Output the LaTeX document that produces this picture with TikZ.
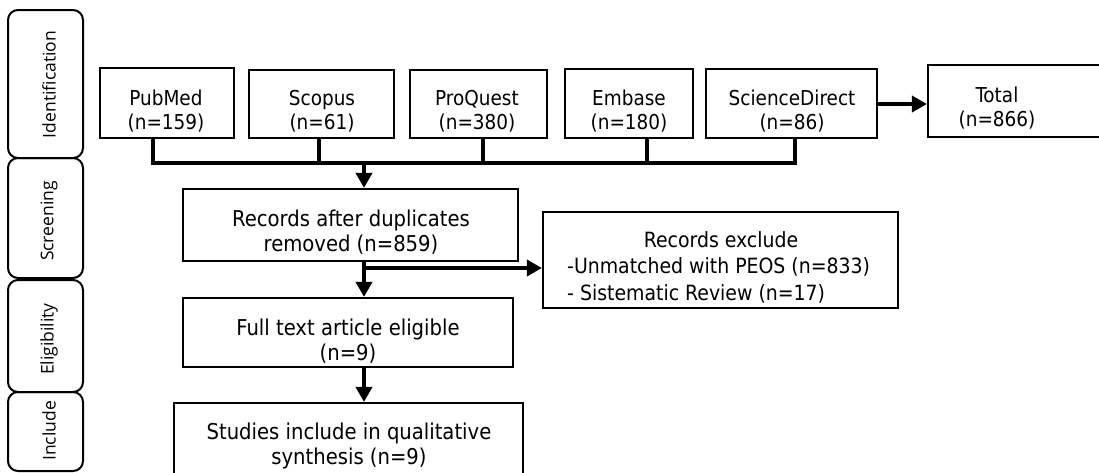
\documentclass[tikz,border=0pt]{standalone}
\usepackage{fontspec}
\setmainfont{DejaVu Sans Condensed}
\newfontfamily\sidefont{Open Sans}
\usetikzlibrary{arrows.meta,fit}
\begin{document}
\begin{tikzpicture}[x=1pt,y=-1pt,
  box/.style={draw, line width=2.2pt, inner sep=0pt},
  phase/.style={draw, line width=2pt, rounded corners=10pt, inner sep=0pt},
  conn/.style={line width=4pt},
  arr/.style={line width=4pt, -{Triangle[length=15pt,width=16pt]}},
  txt/.style={font=\fontsize{20.5}{24}\selectfont, align=center, inner sep=0pt},
  mtxt/.style={font=\fontsize{21.8}{25.5}\selectfont, align=center, inner sep=0pt},
  etxt/.style={font=\fontsize{21}{25.5}\selectfont, inner sep=0pt},
  side/.style={font=\sidefont\fontsize{17.5}{20}\selectfont, rotate=90, inner sep=0pt}]
\useasboundingbox (0,0) rectangle (1099,472);
% phase boxes
\node[phase, fit={(8,10) (83,158)}] (pid) {};
\node[phase, fit={(8,158) (83,278)}] (psc) {};
\node[phase, fit={(8,280) (83,392)}] (pel) {};
\node[phase, fit={(8,392) (83,471)}] (pin) {};
\node[side] (lid) at (49,84.5) {Identification};
\node[side] (lsc) at (49,221) {Screening};
\node[side] (lel) at (49,339) {Eligibility};
\node[side] (lin) at (49,431) {Include};
% source boxes
\node[box, fit={(100,68) (234,138)}] (pub) {};
\node[box, fit={(249,70) (394,138)}] (sco) {};
\node[box, fit={(410,70) (547,138)}] (pro) {};
\node[box, fit={(565,69) (693,138)}] (emb) {};
\node[box, fit={(706,69) (877,138)}] (sd) {};
\node[box, fit={(928,65) (1115,137)}] (tot) {};
\node[txt] (tpub) at (166,111) {PubMed\\(n=159)};
\node[txt] (tsco) at (322,111) {Scopus\\(n=61)};
\node[txt] (tpro) at (477,111) {ProQuest\\(n=380)};
\node[txt] (temb) at (629,111) {Embase\\(n=180)};
\node[txt] (tsd) at (792,111) {ScienceDirect\\(n=86)};
\node[txt] (ttot) at (997,108) {Total\\(n=866)};
% flow boxes
\node[box, fit={(183,189) (518,261)}] (rec) {};
\node[mtxt] (trec) at (351,232) {Records after duplicates\\removed (n=859)};
\node[box, fit={(543,212) (898,308)}] (exc) {};
\node[etxt, anchor=base] (texh) at (721,247) {Records exclude};
\node[etxt, anchor=base west] (texa) at (567,273) {-Unmatched with PEOS (n=833)};
\node[etxt, anchor=base west] (texb) at (567,300) {- Sistematic Review (n=17)};
\node[box, fit={(183,298) (513,367)}] (full) {};
\node[mtxt] (tfull) at (348,341) {Full text article eligible\\(n=9)};
\node[box, fit={(174,403) (523,495)}] (stu) {};
\node[mtxt] (tstu) at (349,446) {Studies include in qualitative\\synthesis (n=9)};
% connectors
\coordinate (bl) at (153,163);
\coordinate (br) at (795,163);
\coordinate (bm) at (364,163);
\draw[conn] (pub.south -| bl) -- (bl) -- (br) -- (sd.south -| br);
\draw[conn] (sco.south -| 319,0) -- (319,163);
\draw[conn] (pro.south -| 483,0) -- (483,163);
\draw[conn] (emb.south -| 647,0) -- (647,163);
\draw[arr] (bm) -- (rec.north -| bm);
\draw[arr] (sd.east |- 0,104) -- (tot.west |- 0,104);
\draw[arr] (rec.south -| bm) -- (full.north -| bm);
\coordinate (br2) at (364,268);
\draw[arr] (br2) -- (exc.west |- br2);
\draw[arr] (full.south -| bm) -- (stu.north -| bm);
\end{tikzpicture}
\end{document}
